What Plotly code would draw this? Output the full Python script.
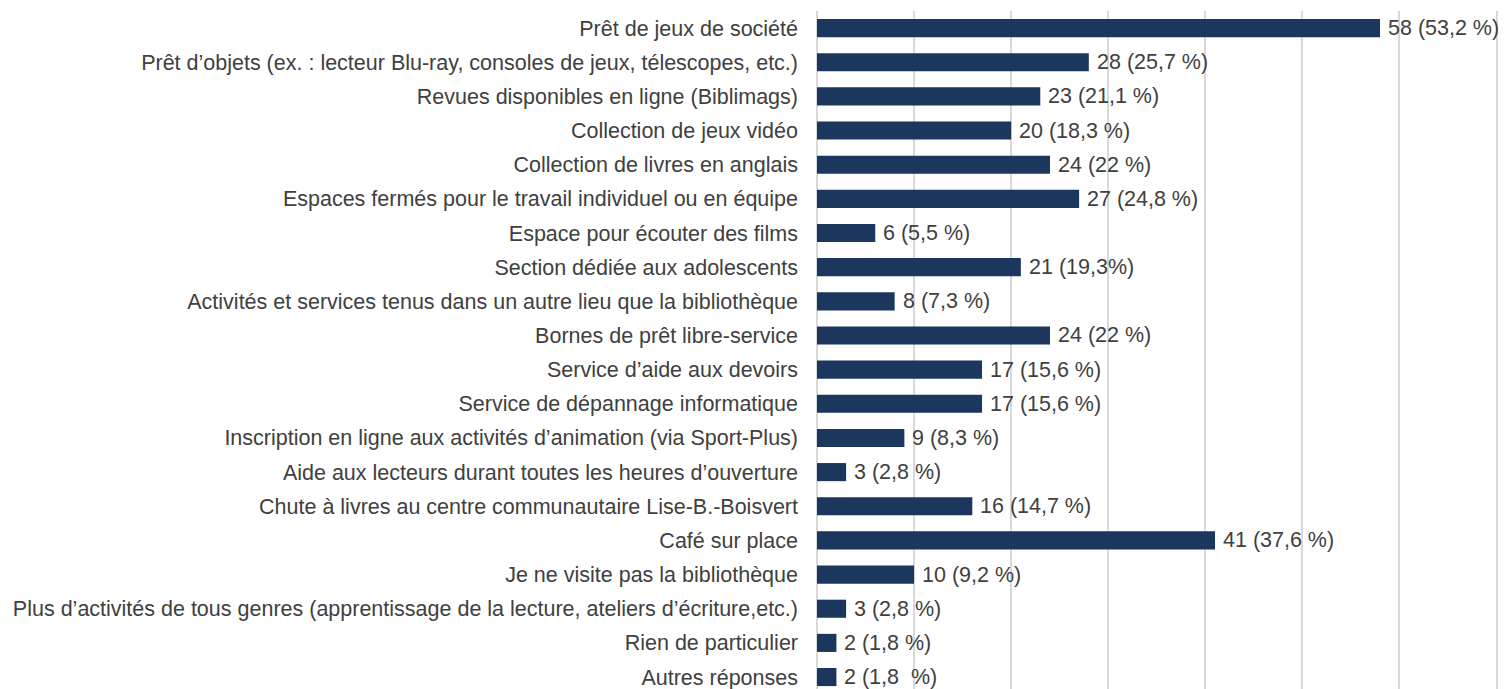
import plotly.graph_objects as go

categories = [
    "Prêt de jeux de société",
    "Prêt d’objets (ex. : lecteur Blu-ray, consoles de jeux, télescopes, etc.)",
    "Revues disponibles en ligne (Biblimags)",
    "Collection de jeux vidéo",
    "Collection de livres en anglais",
    "Espaces fermés pour le travail individuel ou en équipe",
    "Espace pour écouter des films",
    "Section dédiée aux adolescents",
    "Activités et services tenus dans un autre lieu que la bibliothèque",
    "Bornes de prêt libre-service",
    "Service d’aide aux devoirs",
    "Service de dépannage informatique",
    "Inscription en ligne aux activités d’animation (via Sport-Plus)",
    "Aide aux lecteurs durant toutes les heures d’ouverture",
    "Chute à livres au centre communautaire Lise-B.-Boisvert",
    "Café sur place",
    "Je ne visite pas la bibliothèque",
    "Plus d’activités de tous genres (apprentissage de la lecture, ateliers d’écriture,etc.)",
    "Rien de particulier",
    "Autres réponses",
]
counts = [58, 28, 23, 20, 24, 27, 6, 21, 8, 24, 17, 17, 9, 3, 16, 41, 10, 3, 2, 2]
labels = [
    "58 (53,2 %)", "28 (25,7 %)", "23 (21,1 %)", "20 (18,3 %)", "24 (22 %)",
    "27 (24,8 %)", "6 (5,5 %)", "21 (19,3%)", "8 (7,3 %)", "24 (22 %)",
    "17 (15,6 %)", "17 (15,6 %)", "9 (8,3 %)", "3 (2,8 %)", "16 (14,7 %)",
    "41 (37,6 %)", "10 (9,2 %)", "3 (2,8 %)", "2 (1,8 %)", "2 (1,8\u00a0 %)",
]

font_family = "Liberation Sans, Arial, sans-serif"
text_color = "#404040"
font_size = 21.5

fig = go.Figure()
fig.add_trace(go.Bar(
    x=counts,
    y=categories,
    orientation="h",
    width=0.53,
    marker=dict(color="#1b375e", line=dict(width=0)),
    hoverinfo="x+y",
))

# value labels just right of each bar end
for cat, n, lab in zip(categories, counts, labels):
    fig.add_annotation(
        x=n, y=cat, text=lab,
        xref="x", yref="y",
        xanchor="left", yanchor="middle",
        xshift=6, showarrow=False,
        font=dict(family=font_family, size=font_size, color=text_color),
    )

# page body has an 8px margin, so the figure is sized/offset to compensate
fig.update_layout(
    width=1501,
    height=681,
    margin=dict(l=809, r=11, t=3, b=0),
    plot_bgcolor="white",
    paper_bgcolor="white",
    showlegend=False,
    font=dict(family=font_family, size=font_size, color=text_color),
    xaxis=dict(
        range=[0, 70.15],
        dtick=10,
        showticklabels=False,
        showgrid=True,
        gridcolor="#d9d9d9",
        gridwidth=2,
        zeroline=True,
        zerolinecolor="#d9d9d9",
        zerolinewidth=2,
        automargin=False,
        fixedrange=True,
    ),
    yaxis=dict(
        type="category",
        categoryorder="array",
        categoryarray=categories,
        range=[19.35, -0.5],
        showgrid=False,
        ticks="",
        ticklabelstandoff=18,
        automargin=False,
        tickfont=dict(family=font_family, size=font_size, color=text_color),
    ),
)

fig.write_html("out.html")
